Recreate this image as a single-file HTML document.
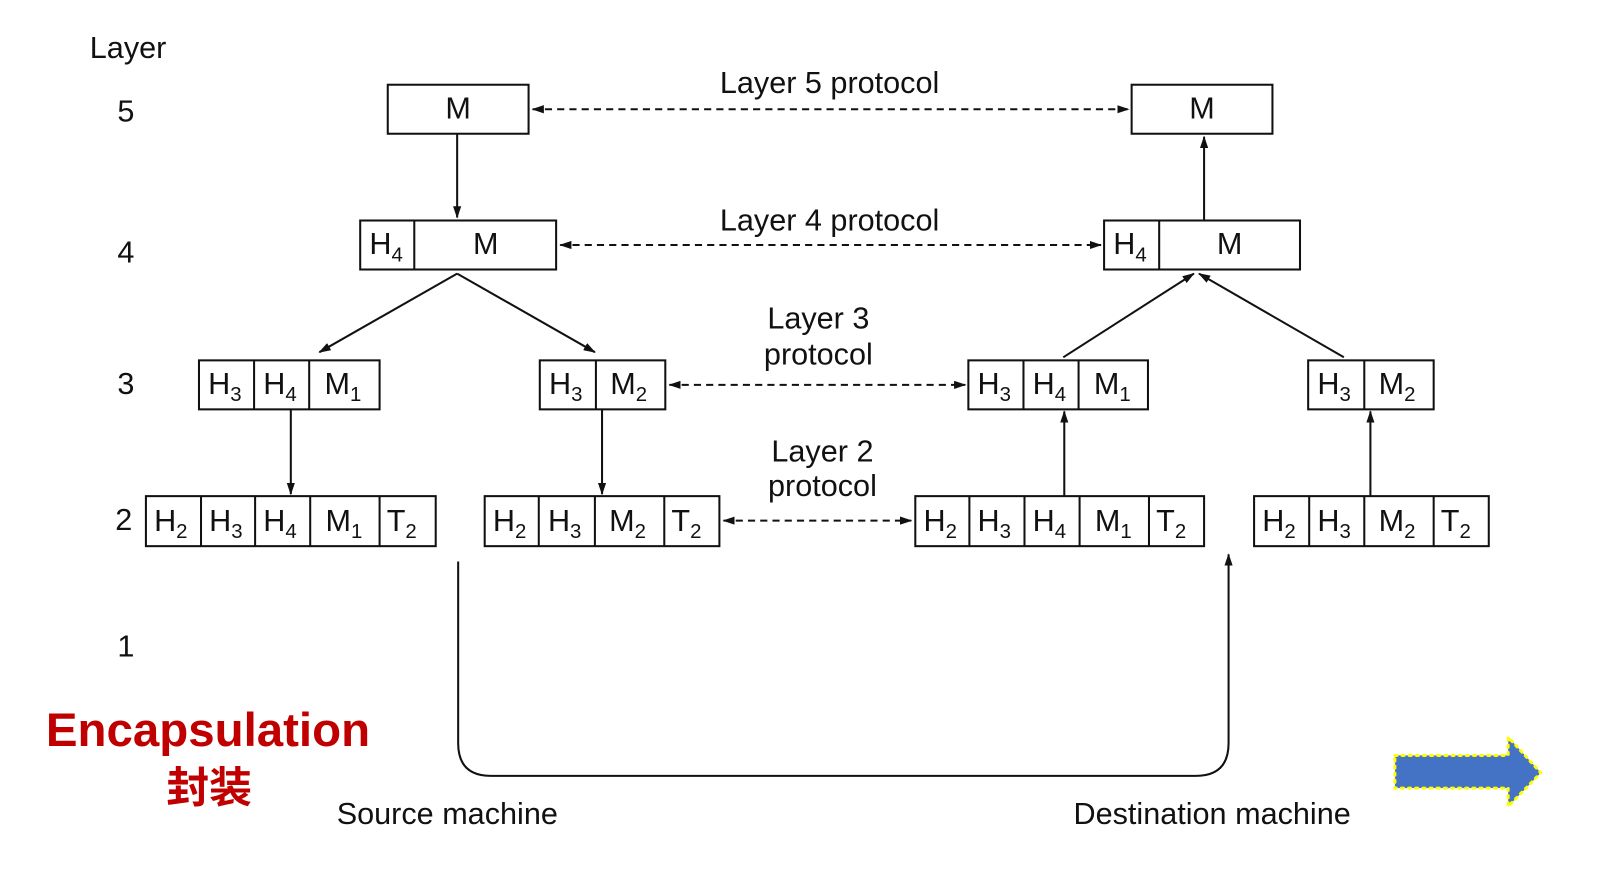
<!DOCTYPE html>
<html><head><meta charset="utf-8"><style>
html,body{margin:0;padding:0;background:#fff;}
svg{display:block;}
text{font-family:"Liberation Sans",Arial,sans-serif;fill:#111;}
</style></head><body>
<svg width="1600" height="881" viewBox="0 0 1568 863" preserveAspectRatio="none" xmlns="http://www.w3.org/2000/svg">
<defs>
<marker id="a" markerWidth="12" markerHeight="8" refX="11" refY="4" orient="auto" markerUnits="userSpaceOnUse">
<path d="M0,0 L12,4 L0,8 Z" fill="#111"/></marker>
<marker id="b" markerWidth="12" markerHeight="8" refX="1" refY="4" orient="auto" markerUnits="userSpaceOnUse">
<path d="M12,0 L0,4 L12,8 Z" fill="#111"/></marker>
</defs>
<rect width="1568" height="863" fill="#fff"/>
<g font-size="30">
<text x="88" y="57">Layer</text>
<text x="115" y="119">5</text>
<text x="115" y="257">4</text>
<text x="115" y="386">3</text>
<text x="113" y="519">2</text>
<text x="115" y="643">1</text>
</g>
<g fill="none" stroke="#111" stroke-width="2">
<rect x="380" y="83" width="138" height="48"/>
<rect x="1109" y="83" width="138" height="48"/>
<rect x="353" y="216" width="192" height="48"/><line x1="406" y1="216" x2="406" y2="264"/>
<rect x="1082" y="216" width="192" height="48"/><line x1="1136" y1="216" x2="1136" y2="264"/>
<rect x="195" y="353" width="177" height="48"/><line x1="249" y1="353" x2="249" y2="401"/><line x1="303" y1="353" x2="303" y2="401"/>
<rect x="529" y="353" width="123" height="48"/><line x1="584" y1="353" x2="584" y2="401"/>
<rect x="949" y="353" width="176" height="48"/><line x1="1003" y1="353" x2="1003" y2="401"/><line x1="1057" y1="353" x2="1057" y2="401"/>
<rect x="1282" y="353" width="123" height="48"/><line x1="1337" y1="353" x2="1337" y2="401"/>
<rect x="143" y="486" width="284" height="49"/><line x1="197" y1="486" x2="197" y2="535"/><line x1="250" y1="486" x2="250" y2="535"/><line x1="304" y1="486" x2="304" y2="535"/><line x1="372" y1="486" x2="372" y2="535"/>
<rect x="475" y="486" width="230" height="49"/><line x1="528" y1="486" x2="528" y2="535"/><line x1="583" y1="486" x2="583" y2="535"/><line x1="651" y1="486" x2="651" y2="535"/>
<rect x="897" y="486" width="283" height="49"/><line x1="950" y1="486" x2="950" y2="535"/><line x1="1004" y1="486" x2="1004" y2="535"/><line x1="1058" y1="486" x2="1058" y2="535"/><line x1="1126" y1="486" x2="1126" y2="535"/>
<rect x="1229" y="486" width="230" height="49"/><line x1="1283" y1="486" x2="1283" y2="535"/><line x1="1337" y1="486" x2="1337" y2="535"/><line x1="1405" y1="486" x2="1405" y2="535"/>
</g>
<g stroke="#111" stroke-width="2" fill="none" marker-end="url(#a)">
<line x1="448" y1="131" x2="448" y2="213"/>
<line x1="1180" y1="216" x2="1180" y2="134"/>
<line x1="448" y1="268" x2="313" y2="345"/>
<line x1="448" y1="268" x2="583" y2="345"/>
<line x1="1042" y1="350" x2="1170" y2="268"/>
<line x1="1317" y1="350" x2="1175" y2="268"/>
<line x1="285" y1="401" x2="285" y2="484"/>
<line x1="590" y1="401" x2="590" y2="484"/>
<line x1="1043" y1="486" x2="1043" y2="403"/>
<line x1="1343" y1="486" x2="1343" y2="403"/>
<path d="M449,550 L449,728 Q449,760 481,760 L1172,760 Q1204,760 1204,728 L1204,543"/>
</g>
<g stroke="#111" stroke-width="2" stroke-dasharray="7,5" fill="none" marker-end="url(#a)" marker-start="url(#b)">
<line x1="522" y1="107" x2="1106" y2="107"/>
<line x1="549" y1="240" x2="1079" y2="240"/>
<line x1="656" y1="377" x2="946" y2="377"/>
<line x1="709" y1="510" x2="893" y2="510"/>
</g>
<g font-size="30" text-anchor="middle">
<text x="813" y="91">Layer 5 protocol</text>
<text x="813" y="226">Layer 4 protocol</text>
<text x="802" y="322">Layer 3</text><text x="802" y="357">protocol</text>
<text x="806" y="452">Layer 2</text><text x="806" y="486">protocol</text>
<text x="449" y="116">M</text><text x="1178" y="116">M</text>
<text x="476" y="249">M</text><text x="1205" y="249">M</text>
</g>
<g font-size="30">
<text x="362" y="249">H<tspan font-size="20" dy="7">4</tspan></text>
<text x="1091" y="249">H<tspan font-size="20" dy="7">4</tspan></text>
<text x="204" y="386">H<tspan font-size="20" dy="7">3</tspan></text>
<text x="258" y="386">H<tspan font-size="20" dy="7">4</tspan></text>
<text x="318" y="386">M<tspan font-size="20" dy="7">1</tspan></text>
<text x="538" y="386">H<tspan font-size="20" dy="7">3</tspan></text>
<text x="598" y="386">M<tspan font-size="20" dy="7">2</tspan></text>
<text x="958" y="386">H<tspan font-size="20" dy="7">3</tspan></text>
<text x="1012" y="386">H<tspan font-size="20" dy="7">4</tspan></text>
<text x="1072" y="386">M<tspan font-size="20" dy="7">1</tspan></text>
<text x="1291" y="386">H<tspan font-size="20" dy="7">3</tspan></text>
<text x="1351" y="386">M<tspan font-size="20" dy="7">2</tspan></text>
<text x="151" y="520">H<tspan font-size="20" dy="7">2</tspan></text>
<text x="205" y="520">H<tspan font-size="20" dy="7">3</tspan></text>
<text x="258" y="520">H<tspan font-size="20" dy="7">4</tspan></text>
<text x="319" y="520">M<tspan font-size="20" dy="7">1</tspan></text>
<text x="379" y="520">T<tspan font-size="20" dy="7">2</tspan></text>
<text x="483" y="520">H<tspan font-size="20" dy="7">2</tspan></text>
<text x="537" y="520">H<tspan font-size="20" dy="7">3</tspan></text>
<text x="597" y="520">M<tspan font-size="20" dy="7">2</tspan></text>
<text x="658" y="520">T<tspan font-size="20" dy="7">2</tspan></text>
<text x="905" y="520">H<tspan font-size="20" dy="7">2</tspan></text>
<text x="958" y="520">H<tspan font-size="20" dy="7">3</tspan></text>
<text x="1012" y="520">H<tspan font-size="20" dy="7">4</tspan></text>
<text x="1073" y="520">M<tspan font-size="20" dy="7">1</tspan></text>
<text x="1133" y="520">T<tspan font-size="20" dy="7">2</tspan></text>
<text x="1237" y="520">H<tspan font-size="20" dy="7">2</tspan></text>
<text x="1291" y="520">H<tspan font-size="20" dy="7">3</tspan></text>
<text x="1351" y="520">M<tspan font-size="20" dy="7">2</tspan></text>
<text x="1412" y="520">T<tspan font-size="20" dy="7">2</tspan></text>
<text x="330" y="807">Source machine</text>
<text x="1052" y="807">Destination machine</text>
</g>
<text x="45" y="731" font-size="46.5" font-weight="bold" style="fill:#c00000">Encapsulation</text>
<text x="205" y="786" font-size="42" font-weight="bold" text-anchor="middle" style="fill:#c00000;font-family:'Noto Sans CJK SC','WenQuanYi Zen Hei',sans-serif">封装</text>
<path d="M1367,740 L1478,740 L1478,722 L1510,757 L1478,790 L1478,772 L1367,772 Z" fill="#4472c4" stroke="#ffff00" stroke-width="3" stroke-dasharray="2,5" stroke-linecap="round"/>
</svg>
</body></html>
